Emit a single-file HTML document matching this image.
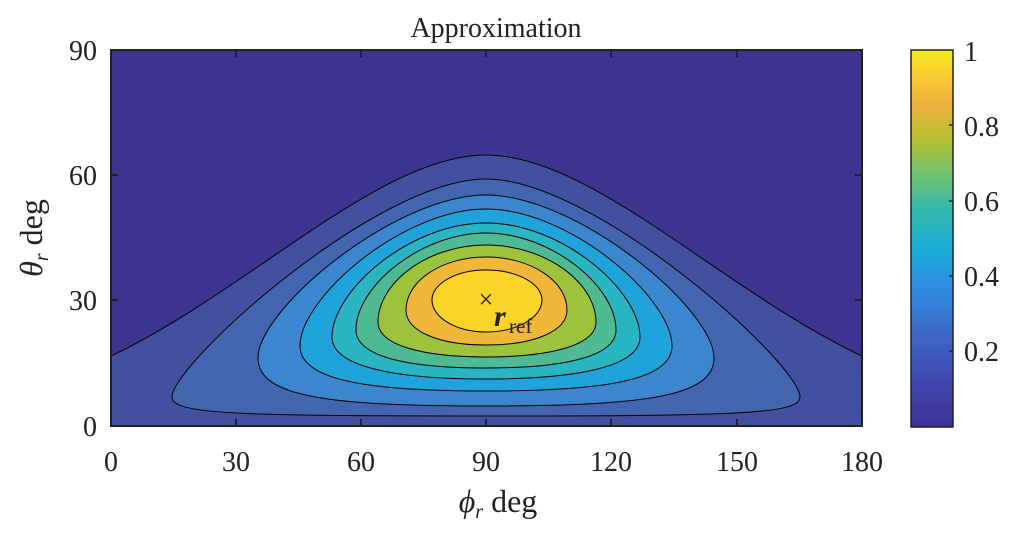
<!DOCTYPE html>
<html><head><meta charset="utf-8"><style>
body{margin:0;background:#fff;width:1014px;height:535px;overflow:hidden}
text{font-family:"Liberation Serif",serif;fill:#222}
</style></head><body>
<svg id="s" width="1014" height="535" viewBox="0 0 1014 535" xmlns="http://www.w3.org/2000/svg">
<defs>
<clipPath id="c"><rect x="111" y="50" width="751" height="376"/></clipPath>
<linearGradient id="g" x1="0" y1="1" x2="0" y2="0">
<stop offset="0" stop-color="#3e2f94"/>
<stop offset="0.12" stop-color="#4147ad"/>
<stop offset="0.25" stop-color="#3d68c8"/>
<stop offset="0.37" stop-color="#2d8ce0"/>
<stop offset="0.47" stop-color="#1aaed8"/>
<stop offset="0.58" stop-color="#35b9ac"/>
<stop offset="0.68" stop-color="#78c169"/>
<stop offset="0.76" stop-color="#b3c030"/>
<stop offset="0.86" stop-color="#f2b23e"/>
<stop offset="0.93" stop-color="#f8cc33"/>
<stop offset="1" stop-color="#f5ec1c"/>
</linearGradient>
</defs>
<g clip-path="url(#c)" id="plot">
<rect x="111" y="50" width="751" height="376" fill="#3e3590"/>
<path d="M111,356 C250,290 380,155 486,155 C592,155 722,290 862,356 L862,426 L111,426 Z" fill="#4350a0" stroke="#000" stroke-width="1"/>
</g>
<rect x="111" y="50" width="751" height="376" fill="none" stroke="#222" stroke-width="2"/>
<g stroke="#222" stroke-width="2">
<line x1="111" y1="175" x2="118" y2="175"/><line x1="111" y1="300" x2="118" y2="300"/>
<line x1="862" y1="175" x2="855" y2="175"/><line x1="862" y1="300" x2="855" y2="300"/>
</g>
<g id="xt" stroke="#222" stroke-width="2"></g>
<text x="496" y="37" font-size="28" text-anchor="middle">Approximation</text>
<g font-size="28" text-anchor="end">
<text x="97" y="60">90</text><text x="97" y="185">60</text><text x="97" y="310">30</text><text x="97" y="436">0</text>
</g>
<g font-size="28" text-anchor="middle">
<text x="111" y="471">0</text><text x="236" y="471">30</text><text x="361" y="471">60</text><text x="486" y="471">90</text><text x="611" y="471">120</text><text x="737" y="471">150</text><text x="862" y="471">180</text>
</g>
<text x="498" y="512" font-size="32" text-anchor="middle"><tspan font-style="italic">ϕ</tspan><tspan font-style="italic" font-size="20" dy="6">r</tspan><tspan dy="-6"> deg</tspan></text>
<text transform="translate(42,238) rotate(-90)" font-size="32" text-anchor="middle"><tspan font-style="italic">θ</tspan><tspan font-style="italic" font-size="20" dy="6">r</tspan><tspan dy="-6"> deg</tspan></text>
<text x="486" y="308" font-size="26" text-anchor="middle">×</text>
<text x="494" y="326" font-size="30" font-style="italic" font-weight="bold">r</text>
<text x="509" y="333" font-size="21">ref</text>
<rect x="911" y="50" width="42" height="377" fill="url(#g)" stroke="#222" stroke-width="1.5"/>
<g stroke="#222" stroke-width="1.5">
<line x1="953" y1="125" x2="949" y2="125"/><line x1="953" y1="201" x2="949" y2="201"/><line x1="953" y1="276" x2="949" y2="276"/><line x1="953" y1="351" x2="949" y2="351"/>
</g>
<g font-size="28">
<text x="964" y="61">1</text><text x="964" y="136">0.8</text><text x="964" y="211">0.6</text><text x="964" y="286">0.4</text><text x="964" y="361">0.2</text>
</g>
</svg>
<script>
var ns="http://www.w3.org/2000/svg",cx=486;
var C=[
[179,416,172,800,397,"#4466b0",0.35,0.15,0.9,0.8],
[195,406,258,714,358,"#3c86d0",0.4,0.3,0.8,0.7],
[209,391,300,672,346,"#20a3db",0.45,0.35,0.75,0.65],
[223,379,332,640,337,"#2ab5c2",0.5,0.4,0.7,0.6],
[233,368,356,616,330,"#4fbb95",0.5,0.45,0.7,0.6],
[245,357,378,596,322,"#9dc33c",0.55,0.5,0.65,0.6],
[257,345,406,567,310,"#f0b73a",0.55,0.55,0.6,0.6],
[270,332,432,542,300,"#fbd42a",0.55,0.55,0.55,0.55]];
var g=document.getElementById("plot");
C.forEach(function(c){var T=c[0],B=c[1],L=c[2],R=c[3],y=c[4],a=c[6],b=c[7],d=c[8],e=c[9];
var w1=cx-L,w2=R-cx;
var p="M"+cx+","+T+" C"+(cx-a*w1)+","+T+" "+L+","+(y-b*(y-T))+" "+L+","+y+
" C"+L+","+(y+d*(B-y))+" "+(cx-e*w1)+","+B+" "+cx+","+B+
" C"+(cx+e*w2)+","+B+" "+R+","+(y+d*(B-y))+" "+R+","+y+
" C"+R+","+(y-b*(y-T))+" "+(cx+a*w2)+","+T+" "+cx+","+T+"Z";
var el=document.createElementNS(ns,"path");el.setAttribute("d",p);el.setAttribute("fill",c[5]);el.setAttribute("stroke","#000");el.setAttribute("stroke-width","1");g.appendChild(el);});
var xt=document.getElementById("xt");
[236,361,486,611,737].forEach(function(x){[[426,419],[50,57]].forEach(function(q){var l=document.createElementNS(ns,"line");l.setAttribute("x1",x);l.setAttribute("x2",x);l.setAttribute("y1",q[0]);l.setAttribute("y2",q[1]);xt.appendChild(l);});});
</script>
</body></html>
